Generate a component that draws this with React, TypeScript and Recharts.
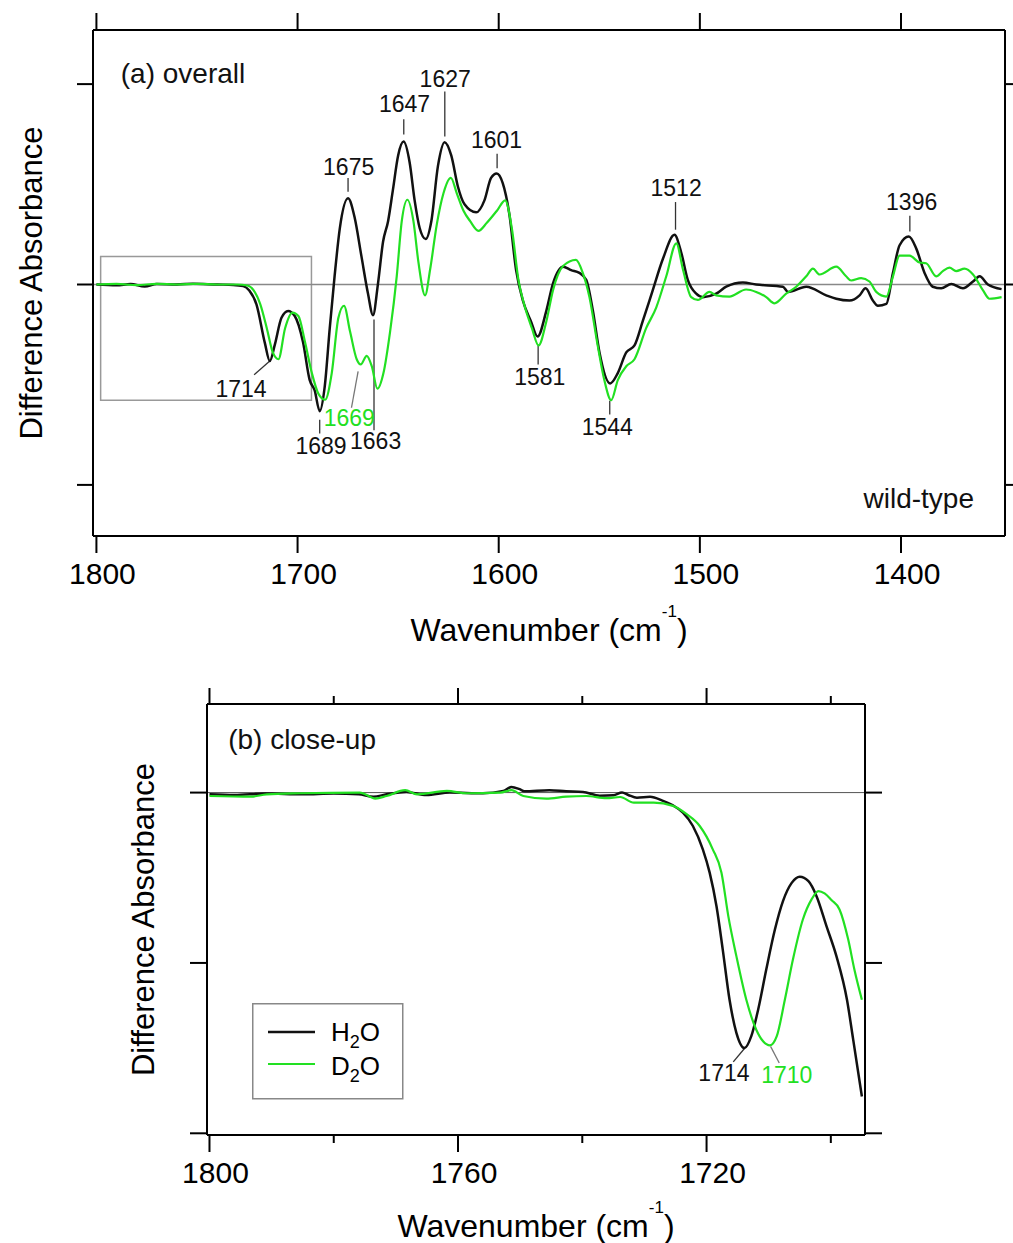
import {
  LineChart,
  Line,
  XAxis,
  YAxis,
  ReferenceLine,
  ReferenceArea,
  ReferenceDot,
  Legend,
} from "recharts";

const FONT = '"Liberation Sans", Arial, Helvetica, sans-serif';
const BLACK = "#111111";
const GREEN = "#22e022";

// (a) overall: wavenumber (cm-1) and difference absorbance (tick units)
const waveA_H2O = [
  1800, 1790, 1783, 1776, 1770, 1760, 1752, 1740, 1732, 1727, 1724, 1720.4, 1716.3, 1713.8, 1711.3, 1708,
  1704.7, 1701.4, 1697.3, 1694, 1691.5, 1689, 1686.5, 1684, 1681.6, 1679, 1674.9, 1671.6, 1668.3, 1665,
  1662.5, 1660, 1657.5, 1655, 1652.6, 1650, 1647.3, 1644.3, 1641.8, 1639.3, 1636.3, 1633.5, 1630.2, 1626.9,
  1623.6, 1620.3, 1617, 1611.2, 1607.1, 1603.8, 1601, 1598, 1594.7, 1591.4, 1588, 1584, 1580.7, 1576.3,
  1573, 1568, 1564, 1559.9, 1556.5, 1553.2, 1549.9, 1544.6, 1540.8, 1536.6, 1532.5, 1528.4, 1523.4, 1518.4,
  1512.6, 1509.3, 1506, 1501.8, 1498.5, 1491.9, 1486.9, 1478.6, 1472, 1458.7, 1456.2, 1447.1, 1437.2,
  1432.2, 1425.6, 1420.6, 1417.6, 1414, 1411.5, 1407.3, 1404, 1400.7, 1396.1, 1392.4, 1388.3, 1384.2, 1380,
  1375, 1369.2, 1364.2, 1360.9, 1356.8, 1350,
];
const absA_H2O = [
  0, -0.004, 0.002, -0.01, 0.002, 0, 0.004, 0, -0.002, -0.008, -0.03, -0.1, -0.29, -0.382, -0.3, -0.166,
  -0.132, -0.157, -0.287, -0.476, -0.528, -0.632, -0.51, -0.218, 0.04, 0.28, 0.43, 0.333, 0.144, -0.045,
  -0.153, 0.006, 0.213, 0.316, 0.472, 0.644, 0.713, 0.61, 0.42, 0.282, 0.227, 0.316, 0.592, 0.71, 0.644,
  0.489, 0.4, 0.36, 0.42, 0.532, 0.554, 0.506, 0.35, 0.075, -0.08, -0.183, -0.26, -0.13, 0.006, 0.089,
  0.072, 0.058, 0.023, -0.13, -0.339, -0.494, -0.442, -0.339, -0.304, -0.183, -0.028, 0.127, 0.248, 0.161,
  0.023, -0.046, -0.063, -0.046, -0.011, 0.01, 0, -0.011, -0.037, -0.011, -0.054, -0.071, -0.08, -0.054,
  -0.019, -0.08, -0.106, -0.097, 0.058, 0.196, 0.239, 0.179, 0.058, -0.011, -0.019, 0.003, -0.019, 0.015,
  0.041, 0, -0.023,
];
const waveA_D2O = [
  1800, 1790, 1780, 1770, 1760, 1750, 1740, 1730, 1725, 1721.9, 1718.6, 1715.3, 1712.3, 1709.5, 1706.2,
  1702.5, 1699.6, 1696.3, 1692.9, 1689.6, 1686.3, 1683, 1679.7, 1676.9, 1673.9, 1670.6, 1668.6, 1665.6,
  1663.1, 1660.3, 1657.3, 1654, 1650.7, 1648.2, 1645.4, 1642.4, 1639.9, 1636.6, 1634.1, 1630.8, 1627.5,
  1623.8, 1620.8, 1617.5, 1614.2, 1610.1, 1605.9, 1600.9, 1596.8, 1593.5, 1590.2, 1586.9, 1583.5, 1580.2,
  1576.3, 1573, 1568, 1561.6, 1558.2, 1554.9, 1550.8, 1547.5, 1544.1, 1540.8, 1536.6, 1532.5, 1526.7,
  1521.7, 1516.7, 1511.7, 1508.4, 1504.3, 1501, 1495.2, 1491.9, 1485.3, 1477, 1472, 1467, 1462.9, 1457.1,
  1452.1, 1447.1, 1443.8, 1440.5, 1432.2, 1427.3, 1424.8, 1419.8, 1415.7, 1412.3, 1407.3, 1404, 1400.7,
  1395.8, 1390.8, 1387.5, 1382.5, 1379.2, 1375.9, 1372.6, 1368.4, 1364.2, 1359.3, 1356, 1350,
];
const absA_D2O = [
  0, 0.003, -0.003, 0.003, 0, 0.003, 0, 0, -0.005, -0.028, -0.097, -0.218, -0.339, -0.373, -0.218, -0.14,
  -0.157, -0.287, -0.442, -0.546, -0.575, -0.442, -0.166, -0.106, -0.235, -0.373, -0.399, -0.356, -0.408,
  -0.52, -0.442, -0.235, 0.041, 0.316, 0.423, 0.316, 0.11, -0.054, 0.075, 0.299, 0.454, 0.532, 0.454,
  0.368, 0.316, 0.268, 0.308, 0.368, 0.42, 0.282, 0.023, -0.115, -0.218, -0.304, -0.183, -0.028, 0.092,
  0.123, 0.058, -0.063, -0.304, -0.477, -0.577, -0.477, -0.408, -0.373, -0.218, -0.115, 0.041, 0.205,
  0.075, -0.063, -0.077, -0.037, -0.054, -0.06, -0.025, -0.037, -0.063, -0.094, -0.046, -0.011, 0.041,
  0.079, 0.05, 0.089, 0.041, 0.02, 0.032, 0.015, -0.037, -0.06, 0.041, 0.144, 0.144, 0.11, 0.106, 0.041,
  0.067, 0.084, 0.067, 0.079, 0.05, -0.028, -0.071, -0.063,
];

// (b) close-up
const waveB_H2O = [
  1800, 1796, 1791, 1785, 1780, 1776, 1773.6, 1771.5, 1768.3, 1765.1, 1761.3, 1756, 1752.7, 1751.4, 1750.1,
  1749.3, 1745.3, 1742.6, 1739.9, 1737.2, 1735, 1733.6, 1732.6, 1731.2, 1729.1, 1727, 1725.4, 1723.8,
  1722.2, 1720.6, 1719.5, 1718.4, 1717.4, 1716.3, 1715.2, 1713.9, 1712.8, 1711.7, 1710.4, 1709, 1707.7,
  1706.3, 1705, 1703.6, 1702.3, 1700.7, 1699.1, 1697.4, 1696.4, 1695,
];
const absB_H2O = [
  -0.01, -0.014, -0.006, -0.01, -0.006, -0.01, -0.024, -0.01, 0.004, -0.014, 0, -0.004, 0.01, 0.033, 0.02,
  0.008, 0.014, 0.008, 0.004, -0.018, -0.016, 0, -0.014, -0.03, -0.025, -0.049, -0.075, -0.118, -0.196,
  -0.333, -0.47, -0.667, -0.92, -1.216, -1.41, -1.5, -1.43, -1.275, -1.04, -0.804, -0.637, -0.53, -0.494,
  -0.52, -0.608, -0.784, -0.96, -1.216, -1.45, -1.784,
];
const waveB_D2O = [
  1800, 1793.3, 1790.8, 1785.4, 1775.8, 1773.3, 1771.5, 1768.5, 1766.6, 1761.8, 1758.6, 1753.2, 1751.4,
  1749.5, 1745.8, 1742.6, 1739.4, 1736.1, 1733.9, 1731.7, 1728.5, 1725.4, 1723.2, 1721.1, 1719, 1717.6,
  1716.5, 1715.2, 1713.6, 1712, 1710.9, 1709.8, 1708.7, 1707.4, 1706.1, 1704.5, 1703.1, 1702, 1701,
  1699.9, 1698.6, 1697.2, 1696.2, 1695,
];
const absB_D2O = [
  -0.02, -0.024, -0.01, -0.004, 0, -0.035, -0.02, 0.014, -0.01, 0.01, -0.004, 0, 0.014, -0.02, -0.035,
  -0.024, -0.02, -0.033, -0.026, -0.059, -0.059, -0.078, -0.127, -0.196, -0.333, -0.47, -0.725, -0.96,
  -1.216, -1.392, -1.46, -1.484, -1.43, -1.216, -0.98, -0.745, -0.627, -0.578, -0.592, -0.631, -0.686,
  -0.863, -1.04, -1.216,
];

const seriesNames = ["H2O", "D2O"];

const ticksA_x = [1800, 1700, 1600, 1500, 1400];
const ticksA_y = [-1, 0, 1];
const ticksB_x = [1800, 1780, 1760, 1740, 1720, 1700];
const majorB_x = [1800, 1760, 1720];
const ticksB_y = [-2, -1, 0];

type Note = {
  text: string;
  x: number;
  y: number;
  color?: string;
  size?: number;
  anchor?: "start" | "middle" | "end";
  base?: "central" | "alphabetic";
};
type Leader = { x1: number; y1: number; x2: number; y2: number; color?: string };

const notesA: Note[] = [
  { text: "(a) overall", x: 1787.9, y: 1.006, size: 28, anchor: "start", base: "alphabetic" },
  { text: "wild-type", x: 1363.7, y: -1.115, size: 28, anchor: "end", base: "alphabetic" },
  { text: "1675", x: 1674.6, y: 0.588 },
  { text: "1647", x: 1646.8, y: 0.903 },
  { text: "1627", x: 1626.6, y: 1.027 },
  { text: "1601", x: 1601.1, y: 0.722 },
  { text: "1714", x: 1728.1, y: -0.52 },
  { text: "1689", x: 1688.3, y: -0.804 },
  { text: "1669", x: 1674.3, y: -0.665, color: GREEN },
  { text: "1663", x: 1661.2, y: -0.779 },
  { text: "1581", x: 1579.6, y: -0.46 },
  { text: "1544", x: 1546, y: -0.71 },
  { text: "1512", x: 1511.8, y: 0.484 },
  { text: "1396", x: 1394.7, y: 0.4115 },
];
const leadersA: Leader[] = [
  { x1: 1674.9, y1: 0.532, x2: 1674.9, y2: 0.463 },
  { x1: 1647.2, y1: 0.825, x2: 1647.2, y2: 0.748 },
  { x1: 1626.8, y1: 0.963, x2: 1626.8, y2: 0.739 },
  { x1: 1600.8, y1: 0.653, x2: 1600.8, y2: 0.58 },
  { x1: 1721.6, y1: -0.45, x2: 1713.8, y2: -0.382 },
  { x1: 1689, y1: -0.675, x2: 1689, y2: -0.744 },
  { x1: 1673.2, y1: -0.615, x2: 1669.9, y2: -0.4335, color: "#777" },
  { x1: 1662, y1: -0.175, x2: 1662, y2: -0.727 },
  { x1: 1580.4, y1: -0.305, x2: 1580.4, y2: -0.399 },
  { x1: 1544.8, y1: -0.58, x2: 1544.8, y2: -0.649 },
  { x1: 1512.1, y1: 0.4115, x2: 1512.1, y2: 0.2735 },
  { x1: 1395.6, y1: 0.3425, x2: 1395.6, y2: 0.265 },
];
const notesB: Note[] = [
  { text: "(b) close-up", x: 1797, y: 0.255, size: 28, anchor: "start", base: "alphabetic" },
  { text: "1714", x: 1717.2, y: -1.645 },
  { text: "1710", x: 1707.1, y: -1.657, color: GREEN },
];
const leadersB: Leader[] = [
  { x1: 1713.8, y1: -1.498, x2: 1715.7, y2: -1.581 },
  { x1: 1709.7, y1: -1.49, x2: 1708.3, y2: -1.587, color: "#777" },
];

const toPoints = (xs: number[], ys: number[]) => xs.map((x, i) => ({ x, y: ys[i] }));

type Side = "top" | "bottom" | "left" | "right";

function axisTick(side: Side, longLen: number, shortLen: number, major: number[] | null, labels: boolean) {
  return function Tick(props: any) {
    const { x, y, payload } = props;
    const v = payload.value;
    const isMajor = major ? major.includes(v) : true;
    const len = isMajor ? longLen : shortLen;
    let x2 = x;
    let y2 = y;
    if (side === "top") y2 = y - len;
    if (side === "bottom") y2 = y + len;
    if (side === "left") x2 = x - len;
    if (side === "right") x2 = x + len;
    return (
      <g>
        <line x1={x} y1={y} x2={x2} y2={y2} stroke="#000" strokeWidth={2} />
        {labels && isMajor && (
          <text x={x + 6} y={y2 + 31} textAnchor="middle" fontSize={30} fontFamily={FONT} fill="#000">
            {v}
          </text>
        )}
      </g>
    );
  };
}

function noteLabel(n: Note) {
  return function NoteText(props: any) {
    const vb = props.viewBox || { x: 0, y: 0 };
    return (
      <text
        x={vb.x}
        y={vb.y}
        textAnchor={n.anchor ?? "middle"}
        dominantBaseline={n.base ?? "central"}
        fontSize={n.size ?? 23}
        fontFamily={FONT}
        fill={n.color ?? BLACK}
      >
        {n.text}
      </text>
    );
  };
}

function xTitle(baseline: number) {
  return function XTitle(props: any) {
    const vb = props.viewBox;
    return (
      <text x={vb.x + vb.width / 2} y={vb.y + baseline} textAnchor="middle" fontSize={32} fontFamily={FONT} fill="#000">
        Wavenumber (cm
        <tspan dy={-24} fontSize={17}>
          -1
        </tspan>
        <tspan dy={24}>)</tspan>
      </text>
    );
  };
}

function yTitle(baseX: number) {
  return function YTitle(props: any) {
    const vb = props.viewBox;
    const cx = vb.x + baseX;
    const cy = vb.y + vb.height / 2;
    return (
      <text
        x={cx}
        y={cy}
        transform={`rotate(-90 ${cx} ${cy})`}
        textAnchor="middle"
        fontSize={31}
        fontFamily={FONT}
        fill="#000"
      >
        Difference Absorbance
      </text>
    );
  };
}

function chem(name: string) {
  return name.split("").map((ch, i) =>
    /\d/.test(ch) ? (
      <tspan key={i} dy={7} fontSize={18}>
        {ch}
      </tspan>
    ) : i > 0 && /\d/.test(name[i - 1]) ? (
      <tspan key={i} dy={-7}>
        {ch}
      </tspan>
    ) : (
      <tspan key={i}>{ch}</tspan>
    )
  );
}

function LegendBox(props: any) {
  const items = [...(props.payload ?? [])].sort(
    (a: any, b: any) => seriesNames.indexOf(String(a.value)) - seriesNames.indexOf(String(b.value))
  );
  return (
    <svg width={152} height={97} style={{ display: "block" }}>
      <rect x={0.75} y={0.75} width={150} height={95} fill="#fff" stroke="#888" strokeWidth={1.5} />
      {items.map((it: any, i: number) => (
        <g key={i}>
          <line x1={16} x2={63} y1={29 + 32 * i} y2={29 + 32 * i} stroke={it.color} strokeWidth={i === 0 ? 2.6 : 2.2} />
          <text x={79} y={38 + 34 * i} fontSize={26} fontFamily={FONT} fill="#000">
            {chem(String(it.value))}
          </text>
        </g>
      ))}
    </svg>
  );
}

const frame = { stroke: "#000", strokeWidth: 2 };

function PanelA() {
  const domX: [number, number] = [1348.3, 1801.7];
  const domY: [number, number] = [-1.255, 1.27];
  return (
    <LineChart width={1013} height={660} margin={{ top: 0, right: 0, bottom: 0, left: 0 }}>
      <XAxis
        dataKey="x"
        type="number"
        domain={domX}
        reversed
        allowDataOverflow
        ticks={ticksA_x}
        interval={0}
        height={124}
        tickSize={0}
        tickMargin={0}
        tickLine={false}
        axisLine={frame}
        tick={axisTick("bottom", 17, 17, null, true)}
        label={xTitle(105)}
      />
      <XAxis
        xAxisId="top"
        orientation="top"
        dataKey="x"
        type="number"
        domain={domX}
        reversed
        allowDataOverflow
        ticks={ticksA_x}
        interval={0}
        height={30}
        tickSize={0}
        tickMargin={0}
        tickLine={false}
        axisLine={frame}
        tick={axisTick("top", 17, 17, null, false)}
      />
      <YAxis
        type="number"
        domain={domY}
        allowDataOverflow
        ticks={ticksA_y}
        interval={0}
        width={93}
        tickSize={0}
        tickMargin={0}
        tickLine={false}
        axisLine={frame}
        tick={axisTick("left", 16, 16, null, false)}
        label={yTitle(42)}
      />
      <YAxis
        yAxisId="r"
        orientation="right"
        type="number"
        domain={domY}
        allowDataOverflow
        ticks={ticksA_y}
        interval={0}
        width={8}
        tickSize={0}
        tickMargin={0}
        tickLine={false}
        axisLine={frame}
        tick={axisTick("right", 16, 16, null, false)}
      />
      <ReferenceLine y={0} stroke="#888" strokeWidth={1.6} />
      <ReferenceArea x1={1797.9} x2={1693.1} y1={0.14} y2={-0.577} fill="none" stroke="#999" strokeWidth={1.5} />
      {leadersA.map((l, i) => (
        <ReferenceLine
          key={`la${i}`}
          segment={[
            { x: l.x1, y: l.y1 },
            { x: l.x2, y: l.y2 },
          ]}
          stroke={l.color ?? "#333"}
          strokeWidth={1.3}
        />
      ))}
      <Line
        data={toPoints(waveA_H2O, absA_H2O)}
        dataKey="y"
        name={seriesNames[0]}
        type="monotone"
        stroke={BLACK}
        strokeWidth={2.5}
        dot={false}
        activeDot={false}
        isAnimationActive={false}
      />
      <Line
        data={toPoints(waveA_D2O, absA_D2O)}
        dataKey="y"
        name={seriesNames[1]}
        type="monotone"
        stroke={GREEN}
        strokeWidth={2.2}
        dot={false}
        activeDot={false}
        isAnimationActive={false}
      />
      {notesA.map((n, i) => (
        <ReferenceDot key={`na${i}`} x={n.x} y={n.y} r={0} fill="none" stroke="none" label={noteLabel(n)} />
      ))}
    </LineChart>
  );
}

function PanelB() {
  const domX: [number, number] = [1694.5, 1800.4];
  const domY: [number, number] = [-2.01, 0.52];
  return (
    <LineChart width={1013} height={583} margin={{ top: 0, right: 0, bottom: 0, left: 0 }}>
      <XAxis
        dataKey="x"
        type="number"
        domain={domX}
        reversed
        allowDataOverflow
        ticks={ticksB_x}
        interval={0}
        height={108}
        tickSize={0}
        tickMargin={0}
        tickLine={false}
        axisLine={frame}
        tick={axisTick("bottom", 17, 8, majorB_x, true)}
        label={xTitle(102)}
      />
      <XAxis
        xAxisId="top"
        orientation="top"
        dataKey="x"
        type="number"
        domain={domX}
        reversed
        allowDataOverflow
        ticks={ticksB_x}
        interval={0}
        height={44}
        tickSize={0}
        tickMargin={0}
        tickLine={false}
        axisLine={frame}
        tick={axisTick("top", 16, 8, majorB_x, false)}
      />
      <YAxis
        type="number"
        domain={domY}
        allowDataOverflow
        ticks={ticksB_y}
        interval={0}
        width={207}
        tickSize={0}
        tickMargin={0}
        tickLine={false}
        axisLine={frame}
        tick={axisTick("left", 17, 17, null, false)}
        label={yTitle(154)}
      />
      <YAxis
        yAxisId="r"
        orientation="right"
        type="number"
        domain={domY}
        allowDataOverflow
        ticks={ticksB_y}
        interval={0}
        width={148}
        tickSize={0}
        tickMargin={0}
        tickLine={false}
        axisLine={frame}
        tick={axisTick("right", 17, 17, null, false)}
      />
      <ReferenceLine y={0} stroke="#555" strokeWidth={1} />
      {leadersB.map((l, i) => (
        <ReferenceLine
          key={`lb${i}`}
          segment={[
            { x: l.x1, y: l.y1 },
            { x: l.x2, y: l.y2 },
          ]}
          stroke={l.color ?? "#333"}
          strokeWidth={1.3}
        />
      ))}
      <Line
        data={toPoints(waveB_H2O, absB_H2O)}
        dataKey="y"
        name={seriesNames[0]}
        type="monotone"
        stroke={BLACK}
        strokeWidth={2.5}
        dot={false}
        activeDot={false}
        isAnimationActive={false}
      />
      <Line
        data={toPoints(waveB_D2O, absB_D2O)}
        dataKey="y"
        name={seriesNames[1]}
        type="monotone"
        stroke={GREEN}
        strokeWidth={2.2}
        dot={false}
        activeDot={false}
        isAnimationActive={false}
      />
      {notesB.map((n, i) => (
        <ReferenceDot key={`nb${i}`} x={n.x} y={n.y} r={0} fill="none" stroke="none" label={noteLabel(n)} />
      ))}
      <Legend
        layout="horizontal"
        verticalAlign="middle"
        align="center"
        content={LegendBox}
        wrapperStyle={{ left: 252, top: 343, width: 152, height: 97, lineHeight: 0 }}
      />
    </LineChart>
  );
}

export default function App() {
  return (
    <div style={{ position: "absolute", left: 0, top: 0, width: 1013, height: 1243, background: "#fff" }}>
      <div style={{ position: "absolute", left: 0, top: 0 }}>
        <PanelA />
      </div>
      <div style={{ position: "absolute", left: 0, top: 660 }}>
        <PanelB />
      </div>
    </div>
  );
}
